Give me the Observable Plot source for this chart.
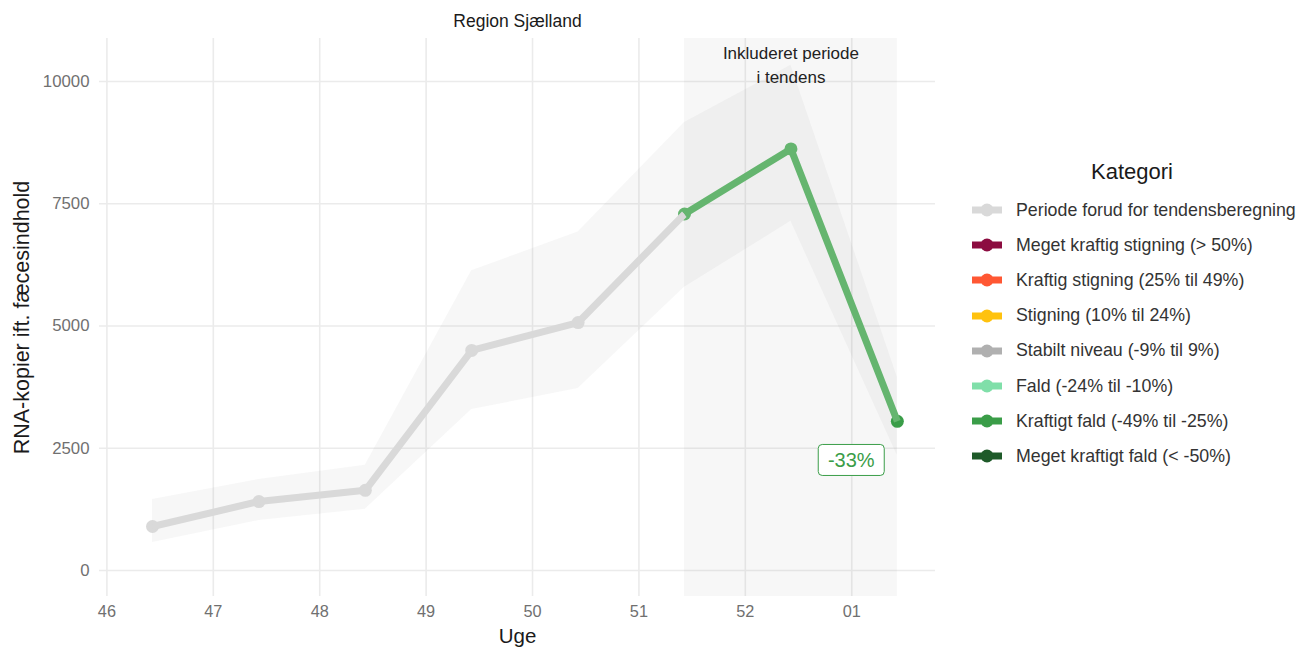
<!DOCTYPE html>
<html>
<head>
<meta charset="utf-8">
<script src="https://cdn.jsdelivr.net/npm/d3@7"></script>
<script src="https://cdn.jsdelivr.net/npm/@observablehq/plot@0.6"></script>
<style>
  body { margin: 0; background: #fff; font-family: "Liberation Sans", Arial, sans-serif; }
  #wrap { position: relative; width: 1299px; height: 648px; overflow: hidden; }
  #legend { position: absolute; left: 0; top: 0; width: 1299px; height: 648px; pointer-events: none; }
  .ltitle { position: absolute; font-size: 22px; color: #1a1a1a; transform: translate(-50%, -50%); white-space: nowrap; }
  .lrow { position: absolute; display: flex; align-items: center; height: 20px; transform: translateY(-50%); white-space: nowrap; }
  .lrow span { font-size: 17.8px; color: #333; margin-left: 12px; }
</style>
</head>
<body>
<div id="wrap"></div>
<script>
// ---- data ----
const regionName = "Region Sjælland";
const weekLabels = ["46", "47", "48", "49", "50", "51", "52", "01"];
const weekStarts = ["2024-11-11", "2024-11-18", "2024-11-25", "2024-12-02", "2024-12-09", "2024-12-16", "2024-12-23", "2024-12-30"];
const sampleDates = ["2024-11-14", "2024-11-21", "2024-11-28", "2024-12-05", "2024-12-12", "2024-12-19", "2024-12-26", "2025-01-02"];
const values = [900, 1410, 1640, 4500, 5070, 7290, 8620, 3050];
const upper  = [1450, 1860, 2150, 6130, 6920, 9160, 10330, 3950];
const lower  = [570, 1020, 1250, 3290, 3720, 5790, 7140, 2350];
const periods = ["forud", "forud", "forud", "forud", "forud", "inkl", "inkl", "inkl"];
const yTicks = [0, 2500, 5000, 7500, 10000];

const categories = [
  "Periode forud for tendensberegning",
  "Meget kraftig stigning (> 50%)",
  "Kraftig stigning (25% til 49%)",
  "Stigning (10% til 24%)",
  "Stabilt niveau (-9% til 9%)",
  "Fald (-24% til -10%)",
  "Kraftigt fald (-49% til -25%)",
  "Meget kraftigt fald (< -50%)"
];
const categoryColors = ["#d9d9d9", "#8c0c40", "#ff5733", "#ffc20e", "#b0b0b0", "#80dfa9", "#3a9d48", "#1e5a29"];

const trendCategory = "Kraftigt fald (-49% til -25%)";
const trendLineColor = "#65b56f";
const trendLabel = "-33%";
const trendLabelDate = "2024-12-30";
const trendLabelValue = 2250;
const includedText = "Inkluderet periode\ni tendens";

// ---- build ----
const parse = s => new Date(s + "T00:00:00Z");
const rows = sampleDates.map((d, i) => ({date: parse(d), value: values[i], lo: lower[i], hi: upper[i], period: periods[i]}));
const firstIncl = periods.indexOf("inkl");
const grayRows = rows.slice(0, firstIncl + 1);
const greenRows = rows.slice(firstIncl);
const lastRow = rows[rows.length - 1];
const trendColor = categoryColors[categories.indexOf(trendCategory)];
const greyColor = categoryColors[0];
const tickDates = weekStarts.map(parse);
const labelByTime = new Map(tickDates.map((d, i) => [+d, weekLabels[i]]));
const inclStart = rows[firstIncl].date, inclEnd = lastRow.date;
const inclMid = new Date((+inclStart + +inclEnd) / 2);

const labelBox = (index, scales) => {
  const cx = scales.x(parse(trendLabelDate));
  const cy = scales.y(trendLabelValue);
  const g = d3.create("svg:g");
  g.append("rect")
    .attr("x", cx - 33).attr("y", cy - 15.5).attr("width", 66).attr("height", 31)
    .attr("rx", 4).attr("fill", "#fff").attr("stroke", trendColor).attr("stroke-width", 1);
  g.append("text")
    .attr("x", cx).attr("y", cy).attr("dy", "0.36em")
    .attr("text-anchor", "middle").attr("font-size", 20).attr("fill", trendColor)
    .text(trendLabel);
  return g.node();
};

const chart = Plot.plot({
  width: 1299,
  height: 648,
  marginLeft: 99,
  marginRight: 364,
  marginTop: 38,
  marginBottom: 52,
  style: {fontFamily: "'Liberation Sans', Arial, sans-serif", color: "#6e6e6e", background: "transparent"},
  x: {type: "utc", domain: [new Date("2024-11-10T12:19:00Z"), new Date("2025-01-04T12:15:00Z")]},
  y: {domain: [-532, 10879]},
  marks: [
    Plot.gridX(tickDates, {stroke: "#ebebeb", strokeOpacity: 1, strokeWidth: 1.6}),
    Plot.gridY(yTicks, {stroke: "#ebebeb", strokeOpacity: 1, strokeWidth: 1.6}),
    Plot.axisX(tickDates, {tickSize: 0, tickPadding: 9, fontSize: 16.3, tickFormat: d => labelByTime.get(+d), label: null, fill: "#707070"}),
    Plot.axisY(yTicks, {tickSize: 0, tickPadding: 10, fontSize: 16.8, tickFormat: d => String(d), label: null, fill: "#707070"}),
    Plot.rect([{x1: inclStart, x2: inclEnd}], {x1: "x1", x2: "x2", fill: "#808080", fillOpacity: 0.065}),
    Plot.areaY(rows, {x: "date", y1: "lo", y2: "hi", fill: "#808080", fillOpacity: 0.065}),
    Plot.dot(grayRows.slice(0, -1), {x: "date", y: "value", r: 6.5, fill: greyColor}),
    Plot.dot(greenRows.slice(0, -1), {x: "date", y: "value", r: 6.5, fill: trendLineColor}),
    Plot.dot([lastRow], {x: "date", y: "value", r: 6.5, fill: trendColor}),
    Plot.line(grayRows, {x: "date", y: "value", stroke: greyColor, strokeWidth: 7, strokeLinecap: "butt"}),
    Plot.line(greenRows, {x: "date", y: "value", stroke: trendLineColor, strokeWidth: 7, strokeLinecap: "butt"}),
    Plot.text([includedText], {x: () => inclMid, text: d => d, frameAnchor: "top", lineAnchor: "middle", dy: 25, lineHeight: 1.4, fontSize: 17, fill: "#222"}),
    labelBox,
    Plot.text([regionName], {text: d => d, frameAnchor: "top", lineAnchor: "middle", dy: -17, fontSize: 17.5, fill: "#1a1a1a"}),
    Plot.text(["Uge"], {text: d => d, frameAnchor: "bottom", lineAnchor: "middle", dy: 40, fontSize: 20.5, fill: "#1a1a1a"}),
    Plot.text(["RNA-kopier ift. fæcesindhold"], {text: d => d, frameAnchor: "left", textAnchor: "middle", lineAnchor: "middle", rotate: -90, dx: -77, fontSize: 21.5, fill: "#1a1a1a"})
  ]
});

const wrap = document.getElementById("wrap");
wrap.appendChild(chart);

// legend
const legend = document.createElement("div");
legend.id = "legend";
const title = document.createElement("div");
title.className = "ltitle";
title.textContent = "Kategori";
title.style.left = "1132px";
title.style.top = "172px";
legend.appendChild(title);
categories.forEach((c, i) => {
  const row = document.createElement("div");
  row.className = "lrow";
  row.style.left = "970px";
  row.style.top = (210 + i * 35.2) + "px";
  const col = categoryColors[i];
  row.innerHTML = `<svg width="34" height="16"><line x1="2" x2="32" y1="8" y2="8" stroke="${col}" stroke-width="7"/><circle cx="17" cy="8" r="6.5" fill="${col}"/></svg><span>${c}</span>`;
  legend.appendChild(row);
});
wrap.appendChild(legend);
</script>
</body>
</html>
